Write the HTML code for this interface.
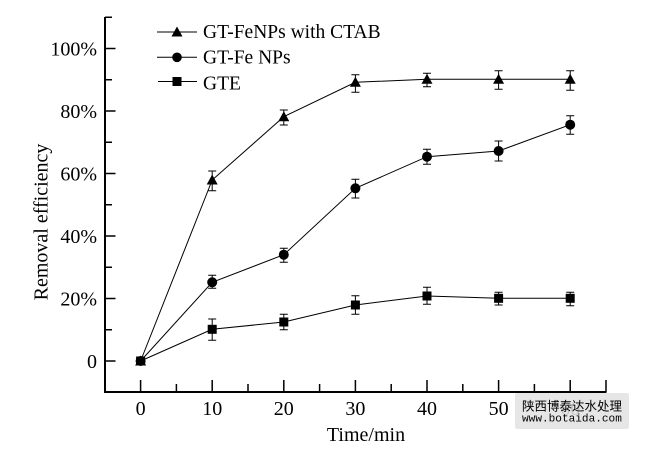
<!DOCTYPE html>
<html><head><meta charset="utf-8">
<style>
html,body{margin:0;padding:0;background:#fff;}
svg{display:block;}
text{font-family:"Liberation Serif","Times New Roman",serif;fill:#000;}
</style></head>
<body>
<svg width="672" height="458" viewBox="0 0 672 458" xmlns="http://www.w3.org/2000/svg">
<rect width="672" height="458" fill="#fff"/>
<!-- axes -->
<g stroke="#000" fill="none">
<path d="M105,17 V392 H606.5" stroke-width="2"/>
<!-- y major ticks -->
<g stroke-width="1.5">
<path d="M105,361H115.5M105,298.5H115.5M105,236H115.5M105,173.5H115.5M105,111H115.5M105,48.5H115.5"/>
<path d="M105,329.75H112M105,267.25H112M105,204.75H112M105,142.25H112M105,79.75H112M105,17.25H112"/>
<!-- x ticks -->
<path d="M140.6,392V380M212.2,392V380M283.8,392V380M355.4,392V380M427,392V380M498.6,392V380M570.2,392V380"/>
<path d="M176.4,392V384M248,392V384M319.6,392V384M391.2,392V384M462.8,392V384M534.4,392V384M606,392V380"/>
</g>
</g>
<!-- y tick labels -->
<g font-size="20" text-anchor="end">
<text x="97" y="368">0</text>
<text x="97" y="305.5">20%</text>
<text x="97" y="243">40%</text>
<text x="97" y="180.5">60%</text>
<text x="97" y="118">80%</text>
<text x="97" y="55.5">100%</text>
</g>
<!-- x tick labels -->
<g font-size="20" text-anchor="middle">
<text x="140.6" y="415">0</text>
<text x="212.2" y="415">10</text>
<text x="283.8" y="415">20</text>
<text x="355.4" y="415">30</text>
<text x="427" y="415">40</text>
<text x="498.6" y="415">50</text>
<text x="570.2" y="415">60</text>
</g>
<text x="366" y="441" font-size="20" text-anchor="middle">Time/min</text>
<text transform="translate(47.5,222) rotate(-90)" font-size="20" text-anchor="middle">Removal efficiency</text>

<!-- series lines -->
<g stroke="#000" stroke-width="1" fill="none">
<polyline points="140.6,361 212.2,180 283.8,116.7 355.4,82.3 427,79.3 498.6,79.3 570.2,79.3"/>
<polyline points="140.6,361 212.2,282.3 283.8,254.7 355.4,188.3 427,156.7 498.6,151 570.2,124.7"/>
<polyline points="140.6,361 212.2,329.3 283.8,322 355.4,305 427,296 498.6,298.3 570.2,298.3"/>
</g>
<!-- error bars -->
<g stroke="#000" stroke-width="1" fill="none">
<path d="M212.2,171V190.7M208.2,171H216.2M208.2,190.7H216.2"/>
<path d="M283.8,110V125M279.8,110H287.8M279.8,125H287.8"/>
<path d="M355.4,74.7V92.3M351.4,74.7H359.4M351.4,92.3H359.4"/>
<path d="M427,73.3V86.7M423,73.3H431M423,86.7H431"/>
<path d="M498.6,70.7V89.3M494.6,70.7H502.6M494.6,89.3H502.6"/>
<path d="M570.2,70.7V90.3M566.2,70.7H574.2M566.2,90.3H574.2"/>

<path d="M212.2,275.3V288.3M208.2,275.3H216.2M208.2,288.3H216.2"/>
<path d="M283.8,248.3V262.3M279.8,248.3H287.8M279.8,262.3H287.8"/>
<path d="M355.4,179.3V198M351.4,179.3H359.4M351.4,198H359.4"/>
<path d="M427,149.3V164.3M423,149.3H431M423,164.3H431"/>
<path d="M498.6,141V161M494.6,141H502.6M494.6,161H502.6"/>
<path d="M570.2,115.7V134.3M566.2,115.7H574.2M566.2,134.3H574.2"/>

<path d="M212.2,319V340.3M208.2,319H216.2M208.2,340.3H216.2"/>
<path d="M283.8,314.3V329.7M279.8,314.3H287.8M279.8,329.7H287.8"/>
<path d="M355.4,295.7V314.3M351.4,295.7H359.4M351.4,314.3H359.4"/>
<path d="M427,287.3V304.3M423,287.3H431M423,304.3H431"/>
<path d="M498.6,292.3V305M494.6,292.3H502.6M494.6,305H502.6"/>
<path d="M570.2,292.3V305.7M566.2,292.3H574.2M566.2,305.7H574.2"/>
</g>
<!-- markers -->
<g fill="#000">
<!-- squares -->
<rect x="136.1" y="356.5" width="9" height="9"/>
<rect x="207.7" y="324.8" width="9" height="9"/>
<rect x="279.3" y="317.5" width="9" height="9"/>
<rect x="350.9" y="300.5" width="9" height="9"/>
<rect x="422.5" y="291.5" width="9" height="9"/>
<rect x="494.1" y="293.8" width="9" height="9"/>
<rect x="565.7" y="293.8" width="9" height="9"/>
<!-- circles -->
<circle cx="140.6" cy="361" r="5"/>
<circle cx="212.2" cy="282.3" r="5"/>
<circle cx="283.8" cy="254.7" r="5"/>
<circle cx="355.4" cy="188.3" r="5"/>
<circle cx="427" cy="156.7" r="5"/>
<circle cx="498.6" cy="151" r="5"/>
<circle cx="570.2" cy="124.7" r="5"/>
<!-- triangles -->
<polygon points="140.6,355.5 135.1,365.5 146.1,365.5"/>
<polygon points="212.2,174.5 206.7,184.5 217.7,184.5"/>
<polygon points="283.8,111.2 278.3,121.2 289.3,121.2"/>
<polygon points="355.4,76.8 349.9,86.8 360.9,86.8"/>
<polygon points="427,73.8 421.5,83.8 432.5,83.8"/>
<polygon points="498.6,73.8 493.1,83.8 504.1,83.8"/>
<polygon points="570.2,73.8 564.7,83.8 575.7,83.8"/>
</g>

<!-- legend -->
<g stroke="#000" stroke-width="1">
<line x1="157" y1="32" x2="197" y2="32"/>
<line x1="157" y1="57.3" x2="197" y2="57.3"/>
<line x1="158" y1="81.5" x2="197" y2="81.5"/>
</g>
<g fill="#000">
<polygon points="177,26.5 171.5,36.5 182.5,36.5"/>
<circle cx="177" cy="57.3" r="4.8"/>
<rect x="172.5" y="77" width="9" height="9"/>
</g>
<g font-size="19.5">
<text x="203" y="38">GT-FeNPs with CTAB</text>
<text x="203" y="63.5">GT-Fe NPs</text>
<text x="203" y="89.5">GTE</text>
</g>

<!-- watermark -->
<rect x="515" y="393" width="114" height="36" rx="2" fill="#e3e3e3" opacity="0.88"/>
<text x="522" y="410.5" font-size="12.5" style="font-family:'Noto Sans CJK SC','WenQuanYi Zen Hei',sans-serif;" fill="#111">陕西博泰达水处理</text>
<text x="522" y="421.5" font-size="11.1" style="font-family:'Liberation Mono','DejaVu Sans Mono',monospace;" fill="#111">www.botaida.com</text>
</svg>
</body></html>
